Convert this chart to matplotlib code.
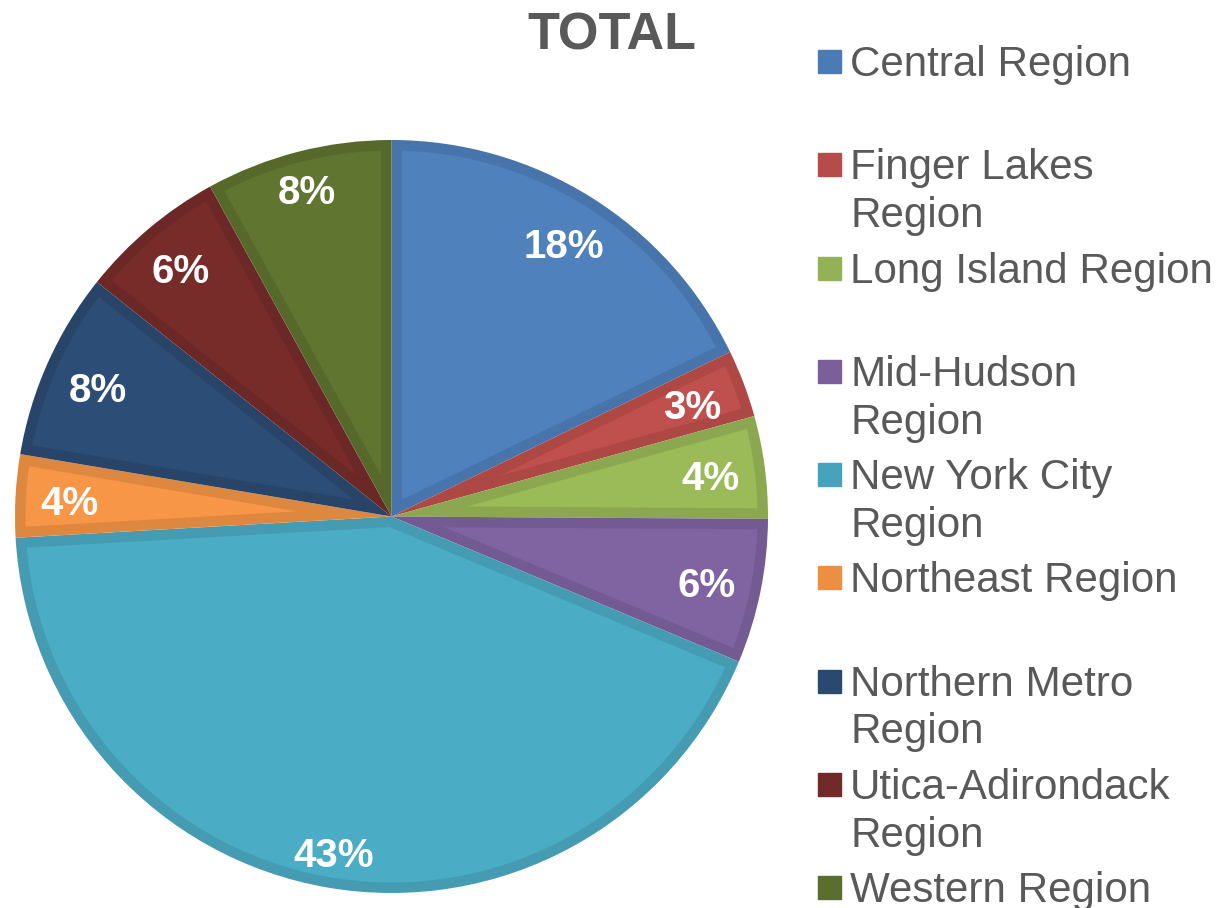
import matplotlib
matplotlib.use("Agg")
import matplotlib.pyplot as plt
import matplotlib.colors as mcolors
import numpy as np

plt.rcParams['font.family'] = ['Liberation Sans', 'DejaVu Sans']

# share of total (percent)
regions = ["Central Region", "Finger Lakes Region", "Long Island Region",
           "Mid-Hudson Region", "New York City Region", "Northeast Region",
           "Northern Metro Region", "Utica-Adirondack Region", "Western Region"]
shares = [17.8, 2.9, 4.4, 6.2, 42.8, 3.55, 8.05, 6.3, 8.0]
legend_lines = [["Central Region"], ["Finger Lakes", "Region"], ["Long Island Region"],
                ["Mid-Hudson", "Region"], ["New York City", "Region"], ["Northeast Region"],
                ["Northern Metro", "Region"], ["Utica-Adirondack", "Region"], ["Western Region"]]
colors = ["#4F81BD", "#C0504D", "#9BBB59", "#8064A2", "#4BACC6",
          "#F79646", "#2C4D75", "#772C2A", "#5F7530"]

W, H = 1222, 908
fig = plt.figure(figsize=(W / 100, H / 100), dpi=100)

# pie centre and radius in pixels
cx, cy, R = 391.5, 516.5, 376.5
ax = fig.add_axes([(cx - R) / W, (H - cy - R) / H, 2 * R / W, 2 * R / H])

def darker(c, f=0.9):
    r, g, b = mcolors.to_rgb(c)
    return (r * f, g * f, b * f)

# dark base wedges, then a lighter inset on each for the bevelled border
wedges, _ = ax.pie(shares, colors=[darker(c) for c in colors], startangle=90,
                   counterclock=False, radius=1, wedgeprops=dict(linewidth=0))
d = 10.5 / R
for w, c in zip(wedges, colors):
    t1, t2 = np.deg2rad(w.theta1), np.deg2rad(w.theta2)
    half = (t2 - t1) / 2
    apex = d / np.sin(half)
    dl = np.arcsin(d / (1 - d))
    arc = np.linspace(t1 + dl, t2 - dl, 200)
    xs = np.concatenate([[apex * np.cos(t1 + half)], (1 - d) * np.cos(arc)])
    ys = np.concatenate([[apex * np.sin(t1 + half)], (1 - d) * np.sin(arc)])
    ax.fill(xs, ys, color=c, lw=0)

ax.set_xlim(-1, 1)
ax.set_ylim(-1, 1)
ax.set_aspect('equal')
ax.axis('off')

# percent labels, placed inside the outer edge
total = sum(shares)
start = 90.0
for v in shares:
    sweep = 360.0 * v / total
    mid = np.deg2rad(start - sweep / 2)
    start -= sweep
    txt = "%d%%" % int(v / total * 100 + 0.5)
    hw = 11 * len(txt) + 14.5
    hh = 12
    r = 0.955 - (hw * abs(np.cos(mid)) + hh * abs(np.sin(mid))) / R
    ax.text(r * np.cos(mid), r * np.sin(mid) - 5 / R, txt, ha='center', va='center',
            color='white', fontsize=29, fontweight='bold')

grey = "#595959"
fig.text(612 / W, 1 - 49 / H, "TOTAL", ha='center', va='baseline',
         fontsize=37.5, fontweight='bold', color=grey)

# legend drawn by hand to keep Excel's wrapped layout
for i, (lines, c) in enumerate(zip(legend_lines, colors)):
    base = 76 + 103.25 * i
    fig.patches.append(plt.Rectangle((818 / W, 1 - (base - 14.5 + 11.5) / H), 23 / W, 23 / H,
                                     transform=fig.transFigure, color=darker(c, 0.95)))
    for k, line in enumerate(lines):
        fig.text(850 / W, 1 - (base + 48 * k) / H, line, ha='left', va='baseline',
                 fontsize=30.3, color=grey)

fig.savefig("out.png", dpi=100)
